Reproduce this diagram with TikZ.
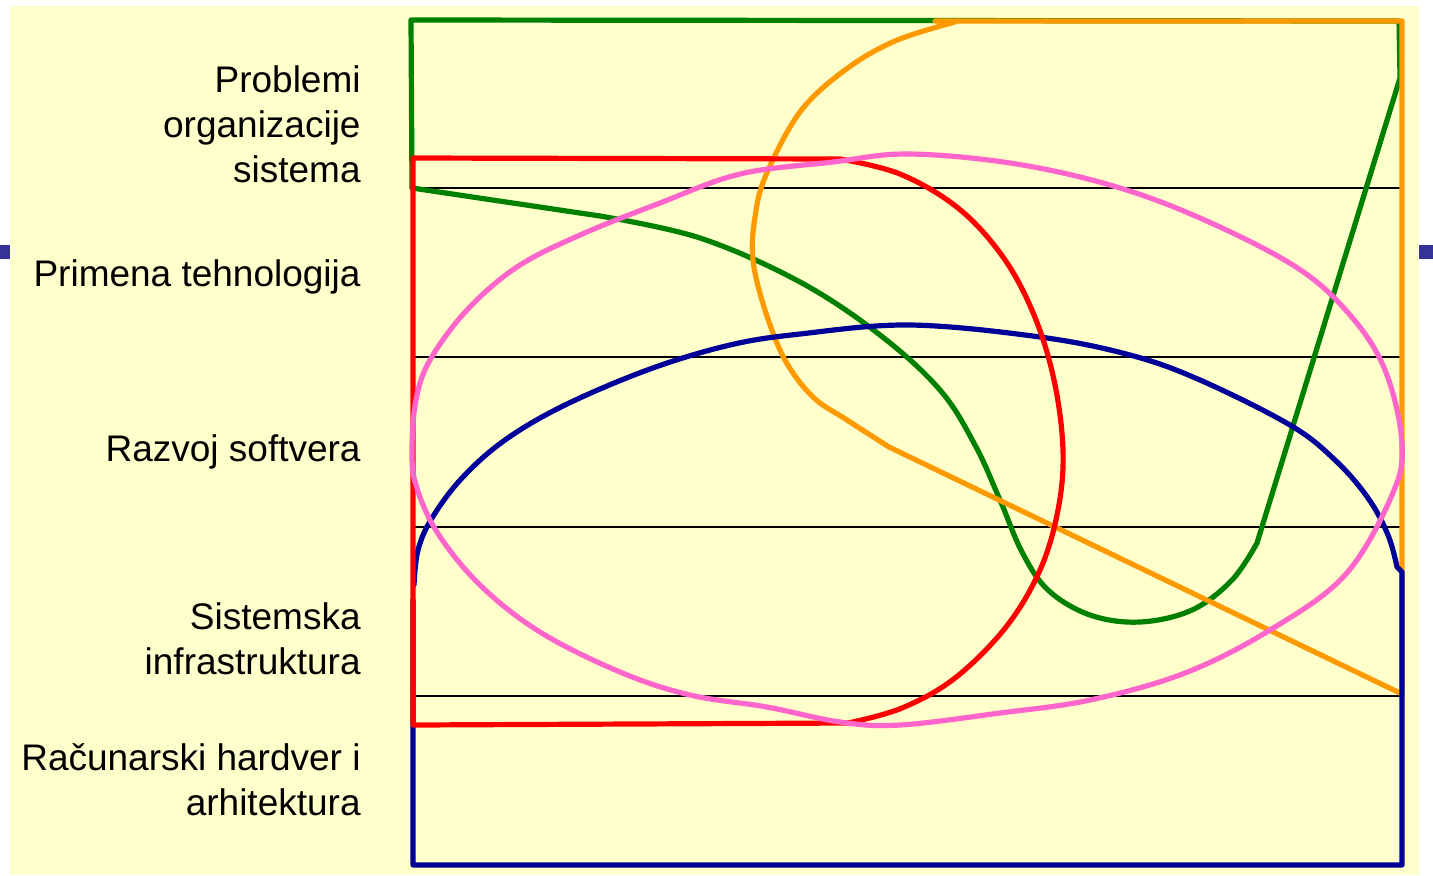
\documentclass[tikz,border=0pt]{standalone}
\usepackage{fontspec}
\setmainfont{Liberation Sans}
\definecolor{bgyellow}{HTML}{FFFFCC}
\definecolor{sqblue}{HTML}{333399}
\definecolor{cgreen}{HTML}{008000}
\definecolor{corange}{HTML}{FF9900}
\definecolor{cred}{HTML}{FF0000}
\definecolor{cpink}{HTML}{FF66CC}
\definecolor{cnavy}{HTML}{000099}
\tikzset{
  curveline/.style={line width=2.6pt, line join=round, line cap=round},
  levelline/.style={line width=1.2pt, black},
  levellabel/.style={anchor=base east, inner sep=0pt, align=right, font=\fontsize{18.5}{22.5}\selectfont}
}
\begin{document}
\begin{tikzpicture}[x=0.5pt, y=-0.5pt]
\useasboundingbox (0,0) rectangle (1433,875);
\fill[white] (0,0) rectangle (1433,875);
\fill[bgyellow] (10,6) rectangle (1419,875);
\fill[sqblue] (0,245) rectangle (10,259);
\fill[sqblue] (1419,245) rectangle (1433,259);
% level lines
\foreach \yy in {188,357,527,696}{
  \draw[levelline] (413,\yy) -- (1400,\yy);
}
% labels (base = baseline of last line)
\node[levellabel] (l1) at (361,182) {Problemi\\organizacije\\sistema};
\node[levellabel] (l2) at (361,286) {Primena tehnologija};
\node[levellabel] (l3) at (361,461) {Razvoj softvera};
\node[levellabel] (l4) at (361,674) {Sistemska\\infrastruktura};
\node[levellabel] (l5) at (361,815) {Računarski hardver i\\arhitektura};
% green
\draw[curveline, cgreen] (1399,21) -- (411,20) -- (412,188) -- plot[smooth, tension=0.6] coordinates {(600,216) (700,238) (800,282) (880,335) (940,390) (975,445) (1000,500) (1022,552) (1048,590) (1090,615) (1140,622) (1192,610) (1232,580) (1257,543)} -- (1400,78) -- cycle;
% orange
\draw[curveline, corange] (935,21) -- (1402,21) -- (1402,694) -- plot[smooth, tension=0.6] coordinates {(889,447) (847,420) (813,397) (785,360) (765,310) (753,260) (755,217) (766,175) (800,112) (845,70) (895,41) (955,22)};
% blue
\draw[curveline, cnavy] (413,600) -- (413,865) -- (1402,865) -- (1402,572) -- plot[smooth, tension=0.6] coordinates {(1397,567) (1388,535) (1368,498) (1335,460) (1290,425) (1200,380) (1130,355) (1040,337) (910,325) (800,334) (730,345) (650,369) (565,405) (505,440) (462,478) (432,518) (418,550) (414,585)};
% red
\draw[curveline, cred] (413,158) -- plot[smooth, tension=0.6] coordinates {(840,159) (900,174) (958,208) (1003,257) (1034,315) (1054,380) (1063,450) (1058,510) (1040,570) (1006,627) (955,678) (902,708) (848,723)} -- (413,725) -- cycle;
% pink
\draw[curveline, cpink] plot[smooth cycle, tension=0.6] coordinates {(907,154) (1010,163) (1110,185) (1200,218) (1296,267) (1350,315) (1385,370) (1402,443) (1392,495) (1345,575) (1270,630) (1185,673) (1090,700) (1000,713) (900,725) (840,722) (767,707) (690,695) (620,672) (540,632) (480,585) (437,532) (416,485) (412,450) (416,400) (430,360) (467,310) (517,267) (580,235) (660,203) (740,174) (833,162)};
\end{tikzpicture}
\end{document}
